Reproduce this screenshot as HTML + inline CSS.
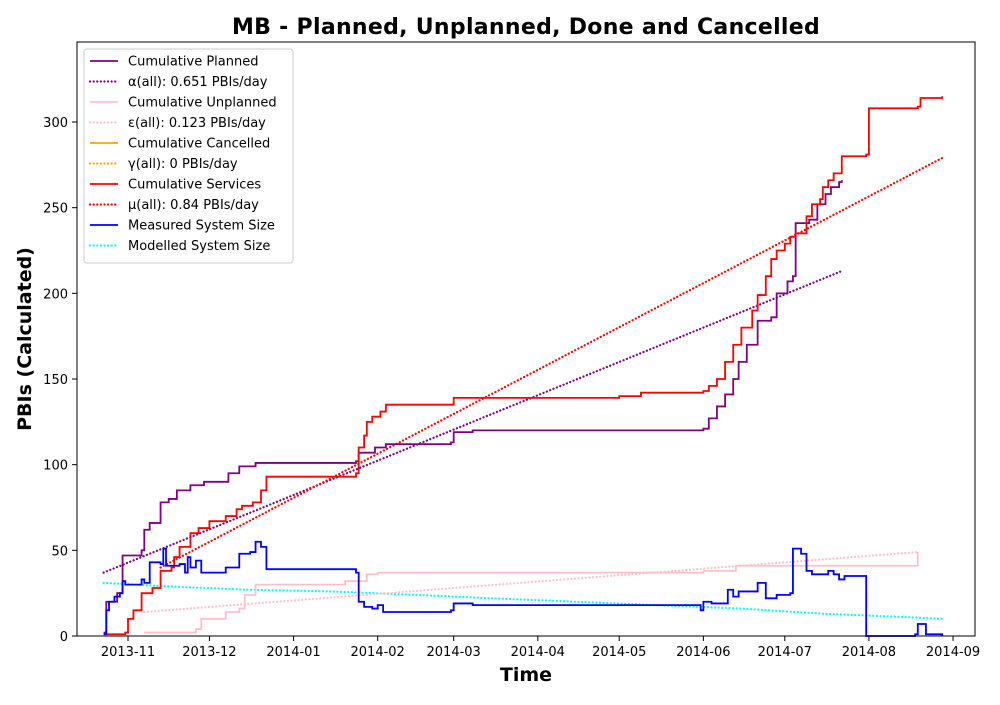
<!DOCTYPE html>
<html><head><meta charset="utf-8"><style>
body{margin:0;background:#fff}
svg{font-family:"DejaVu Sans","Liberation Sans",sans-serif}
</style></head><body>
<svg id="chart" width="1000" height="700">
<rect width="1000" height="700" fill="#fff"/>
<text x="526" y="34" text-anchor="middle" font-size="22" font-weight="bold" letter-spacing="0.3">MB - Planned, Unplanned, Done  and Cancelled</text>
<text x="526" y="681" text-anchor="middle" font-size="19" font-weight="bold">Time</text>
<text transform="translate(31,339) rotate(-90)" text-anchor="middle" font-size="19" font-weight="bold">PBIs (Calculated)</text>
<g id="plot"></g>
<rect x="77" y="42" width="898" height="594" fill="none" stroke="#000" stroke-width="1"/>
<g id="legend"></g>
</svg>
<script>
const yTicks=[0,50,100,150,200,250,300];
const xTicks=["2013-11-01","2013-12-01","2014-01-01","2014-02-01","2014-03-01","2014-04-01","2014-05-01","2014-06-01","2014-07-01","2014-08-01","2014-09-01"];
const xTickLabels=["2013-11","2013-12","2014-01","2014-02","2014-03","2014-04","2014-05","2014-06","2014-07","2014-08","2014-09"];
const plannedDates=["2013-10-23","2013-10-24","2013-10-28","2013-10-30","2013-11-06","2013-11-07","2013-11-09","2013-11-13","2013-11-16","2013-11-19","2013-11-24","2013-11-29","2013-12-08","2013-12-12","2013-12-18","2014-01-24","2014-01-25","2014-01-31","2014-02-04","2014-02-28","2014-03-01","2014-03-08","2014-06-01","2014-06-03","2014-06-06","2014-06-09","2014-06-12","2014-06-14","2014-06-17","2014-06-21","2014-06-26","2014-06-28","2014-07-02","2014-07-04","2014-07-05","2014-07-10","2014-07-13","2014-07-16","2014-07-18","2014-07-21","2014-07-22"];
const plannedValues=[2,20,25,47,50,62,66,78,80,85,88,90,95,99,101,102,107,110,112,113,119,120,121,127,134,141,150,160,170,184,186,200,207,210,241,243,252,258,262,265,266];
const servicesDates=["2013-10-23","2013-10-31","2013-11-01","2013-11-03","2013-11-06","2013-11-10","2013-11-13","2013-11-17","2013-11-18","2013-11-20","2013-11-24","2013-11-27","2013-12-01","2013-12-07","2013-12-11","2013-12-13","2013-12-17","2013-12-20","2013-12-22","2014-01-24","2014-01-25","2014-01-27","2014-01-28","2014-01-30","2014-02-02","2014-02-04","2014-03-01","2014-05-01","2014-05-09","2014-06-01","2014-06-03","2014-06-06","2014-06-09","2014-06-12","2014-06-15","2014-06-19","2014-06-21","2014-06-24","2014-06-26","2014-06-28","2014-07-01","2014-07-03","2014-07-05","2014-07-09","2014-07-11","2014-07-14","2014-07-15","2014-07-17","2014-07-19","2014-07-22","2014-07-31","2014-08-01","2014-08-19","2014-08-20","2014-08-28"];
const servicesValues=[1,2,10,15,25,28,38,40,46,52,60,63,67,70,74,76,78,85,93,95,110,117,125,128,131,135,139,140,142,143,146,150,160,170,180,190,199,210,220,225,229,233,235,245,252,255,262,266,270,280,281,308,309,314,315];
const unplannedDates=["2013-11-07","2013-11-26","2013-11-28","2013-12-07","2013-12-12","2013-12-14","2013-12-18","2014-01-20","2014-01-28","2014-02-01","2014-06-01","2014-06-13","2014-08-19","2014-08-19"];
const unplannedValues=[2,4,10,14,16,24,30,32,36,37,38,41,43,49];
const measuredDates=["2013-10-23","2013-10-24","2013-10-25","2013-10-27","2013-10-29","2013-10-30","2013-10-31","2013-11-03","2013-11-06","2013-11-07","2013-11-09","2013-11-13","2013-11-14","2013-11-15","2013-11-20","2013-11-22","2013-11-23","2013-11-24","2013-11-26","2013-11-28","2013-12-07","2013-12-12","2013-12-16","2013-12-18","2013-12-20","2013-12-22","2014-01-24","2014-01-25","2014-01-27","2014-01-30","2014-02-01","2014-02-03","2014-02-28","2014-03-01","2014-03-08","2014-05-31","2014-06-01","2014-06-04","2014-06-10","2014-06-12","2014-06-14","2014-06-20","2014-06-21","2014-06-24","2014-06-28","2014-07-03","2014-07-04","2014-07-07","2014-07-09","2014-07-11","2014-07-17","2014-07-19","2014-07-21","2014-07-23","2014-07-31","2014-08-18","2014-08-19","2014-08-22","2014-08-28"];
const measuredValues=[1,15,20,23,25,32,30,30,33,31,43,42,51,41,42,37,46,40,44,37,40,48,49,55,52,39,37,20,17,16,18,14,15,19,18,15,20,19,27,23,26,26,31,22,24,25,51,48,38,36,38,36,33,35,0,1,7,1,0];
const modelledDates=["2013-10-23","2013-11-15","2013-12-15","2014-01-15","2014-02-15","2014-03-15","2014-04-15","2014-05-15","2014-06-15","2014-07-15","2014-08-15","2014-08-28"];
const modelledValues=[31,29,27,26,24,22,20,18,16,13,11,10];
const fitPlannedDates=["2013-10-23","2014-07-22"];const fitPlannedValues=[37,213];
const fitServicesDates=["2013-11-13","2014-08-28"];const fitServicesValues=[40,279];
const fitUnplannedDates=["2013-11-07","2014-08-19"];const fitUnplannedValues=[14,49];

const NS="http://www.w3.org/2000/svg";
const d0=Date.parse("2013-11-01"),x0=128,pxDay=2.714;
function xs(d){return x0+(Date.parse(d)-d0)/86400000*pxDay;}
function ys(v){return 636-v*1.7133;}
const plot=document.getElementById('plot'),leg=document.getElementById('legend');
function mk(tag,attrs,parent){const e=document.createElementNS(NS,tag);for(const k in attrs)e.setAttribute(k,attrs[k]);parent.appendChild(e);return e;}
yTicks.forEach(v=>{
 const t=mk('line',{x1:72,x2:77,y1:ys(v),y2:ys(v),stroke:'#000'},plot);
 
 
 const l=mk('text',{x:68,y:ys(v)+5,'text-anchor':'end','font-size':13},plot);l.textContent=v;
 
 
});
xTicks.forEach((d,i)=>{
 const t=mk('line',{x1:xs(d),x2:xs(d),y1:636,y2:641,stroke:'#000'},plot);
 
 
 const l=mk('text',{x:xs(d),y:656,'text-anchor':'middle','font-size':13},plot);l.textContent=xTickLabels[i];
 
 
});
function series(dates,vals,color,step,dash,name){
 let p='';
 dates.forEach((d,i)=>{const x=xs(d),y=ys(vals[i]);
  if(i===0)p+='M'+x+','+y;else{ if(step)p+='L'+x+','+ys(vals[i-1]); p+='L'+x+','+y;}});
 const e=mk('path',{d:p,fill:'none',stroke:color,'stroke-width':dash?2.2:1.8,'stroke-dasharray':dash?'0.1,3.5':'none','stroke-linecap':dash?'round':'butt'},plot);
 
 
}
series(modelledDates,modelledValues,'cyan',false,true,'modelled-system-size-line');
series(fitUnplannedDates,fitUnplannedValues,'pink',false,true,'unplanned-fit-line');
series(unplannedDates,unplannedValues,'pink',true,false,'cumulative-unplanned-line');
series(fitPlannedDates,fitPlannedValues,'purple',false,true,'planned-fit-line');
series(fitServicesDates,fitServicesValues,'red',false,true,'services-fit-line');
series(plannedDates,plannedValues,'purple',true,false,'cumulative-planned-line');
series(servicesDates,servicesValues,'red',true,false,'cumulative-services-line');
series(measuredDates,measuredValues,'blue',true,false,'measured-system-size-line');
const legendItems=[["Cumulative Planned","purple",0],["α(all): 0.651 PBIs/day","purple",1],["Cumulative Unplanned","pink",0],["ε(all): 0.123 PBIs/day","pink",1],["Cumulative Cancelled","orange",0],["γ(all): 0 PBIs/day","orange",1],["Cumulative Services","red",0],["μ(all): 0.84 PBIs/day","red",1],["Measured System Size","blue",0],["Modelled System Size","cyan",1]];
const box=mk('rect',{x:84,y:49,width:209,height:214,rx:3,fill:'#fff',stroke:'#ccc','fill-opacity':0.8},leg);


legendItems.forEach((it,i)=>{
 const y=61+i*20.5;
 const g=mk('g',{},leg);
 
 
 mk('line',{x1:90,x2:118,y1:y,y2:y,stroke:it[1],'stroke-width':it[2]?2.2:1.8,'stroke-dasharray':it[2]?'0.1,3.5':'none','stroke-linecap':it[2]?'round':'butt'},g);
 const t=mk('text',{x:128,y:y+4.5,'font-size':13},g);t.textContent=it[0];
});
</script>
</body></html>
